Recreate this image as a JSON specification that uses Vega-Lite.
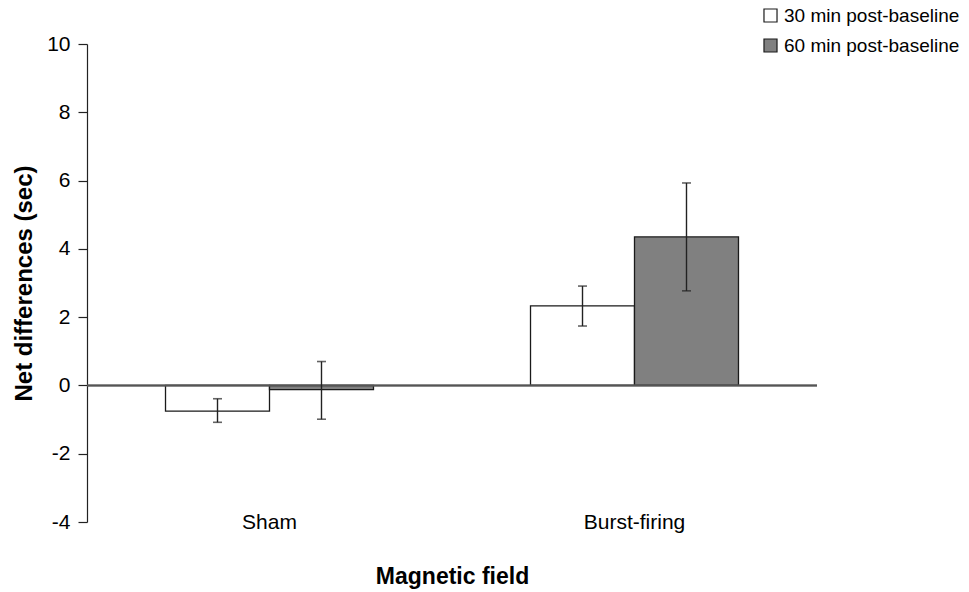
{
  "$schema": "https://vega.github.io/schema/vega-lite/v6.json",
  "width": 730,
  "height": 478,
  "autosize": {"type": "none"},
  "padding": {"left": 87, "top": 44, "right": 152, "bottom": 70},
  "background": "white",
  "config": {
    "view": {"stroke": null},
    "font": "Liberation Sans",
    "axis": {"labelFont": "Liberation Sans", "titleFont": "Liberation Sans", "labelColor": "black", "titleColor": "black", "grid": false}
  },
  "data": {
    "values": [
      {"field": "Sham", "series": "30 min post-baseline", "value": -0.75, "lo": -1.08, "hi": -0.39},
      {"field": "Sham", "series": "60 min post-baseline", "value": -0.12, "lo": -0.99, "hi": 0.70},
      {"field": "Burst-firing", "series": "30 min post-baseline", "value": 2.33, "lo": 1.74, "hi": 2.91},
      {"field": "Burst-firing", "series": "60 min post-baseline", "value": 4.35, "lo": 2.77, "hi": 5.93}
    ]
  },
  "encoding": {
    "x": {
      "field": "field", "type": "nominal", "sort": ["Sham", "Burst-firing"],
      "scale": {"paddingInner": 0, "paddingOuter": 0},
      "axis": {
        "title": "Magnetic field", "titleFontSize": 23, "titleFontWeight": "bold", "titlePadding": 33,
        "labelAngle": 0, "labelFontSize": 21, "labelBaseline": "middle", "labelPadding": 0,
        "domain": false, "ticks": false
      }
    },
    "xOffset": {"field": "series", "type": "nominal", "scale": {"paddingOuter": 0.755, "paddingInner": 0}}
  },
  "layer": [
    {
      "mark": {"type": "bar", "stroke": "#1a1a1a", "strokeWidth": 1.3},
      "encoding": {
        "y": {
          "field": "value", "type": "quantitative",
          "scale": {"domain": [-4, 10], "nice": false, "zero": false},
          "axis": {
            "title": "Net differences (sec)", "titleFontSize": 24, "titleFontWeight": "bold", "titlePadding": 10,
            "values": [-4, -2, 0, 2, 4, 6, 8, 10], "labelExpr": "'' + datum.value", "labelFontSize": 21, "labelPadding": 8,
            "tickSize": 9, "tickColor": "#222", "domainColor": "#222", "tickWidth": 1.2, "domainWidth": 1.2
          }
        },
        "y2": {"datum": 0},
        "fill": {
          "field": "series", "type": "nominal",
          "scale": {"domain": ["30 min post-baseline", "60 min post-baseline"], "range": ["#ffffff", "#808080"]},
          "legend": {
            "title": null, "orient": "none", "legendX": 674, "legendY": -38,
            "symbolType": "square", "symbolSize": 170, "symbolStrokeColor": "#1a1a1a", "symbolStrokeWidth": 1.2,
            "labelFontSize": 19, "labelColor": "black", "labelOffset": 4, "rowPadding": 10, "labelLimit": 0, "labelFont": "Liberation Sans"
          }
        }
      }
    },
    {
      "mark": {"type": "rule", "color": "#555", "strokeWidth": 1.5},
      "encoding": {"y": {"datum": 0}, "x": null, "xOffset": null}
    },
    {
      "mark": {"type": "rule", "color": "#222", "strokeWidth": 1.4},
      "encoding": {"y": {"field": "lo", "type": "quantitative"}, "y2": {"field": "hi"}}
    },
    {
      "mark": {"type": "tick", "color": "#222", "size": 9, "thickness": 1.6},
      "encoding": {"y": {"field": "lo", "type": "quantitative"}}
    },
    {
      "mark": {"type": "tick", "color": "#222", "size": 9, "thickness": 1.6},
      "encoding": {"y": {"field": "hi", "type": "quantitative"}}
    }
  ]
}
